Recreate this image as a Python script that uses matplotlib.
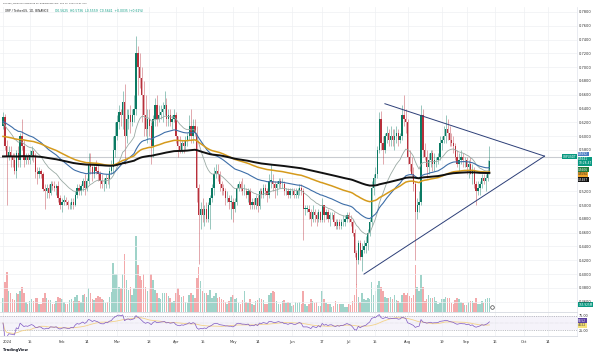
"""
XRP / TetherUS daily chart (TradingView style) with EMAs, volume,
triangle drawing and RSI pane
"""

import numpy as np
import pandas as pd
import matplotlib
matplotlib.use("Agg")
import matplotlib.pyplot as plt
import matplotlib.transforms as mtransforms

# Daily candles, Jan 1 - Sep 13 2024
first_open = 0.615
closes = [
    # Jan
    0.628, 0.585, 0.570, 0.577, 0.570, 0.565, 0.550, 0.575, 0.565, 0.600, 0.585, 0.565, 0.570, 0.565, 0.572, 0.578,
    0.570, 0.548, 0.545, 0.550, 0.545, 0.524, 0.520, 0.525, 0.518, 0.530, 0.528, 0.525, 0.528, 0.510, 0.500,
    # Feb
    0.505, 0.508, 0.505, 0.500, 0.500, 0.505, 0.500, 0.515, 0.525, 0.520, 0.527, 0.535, 0.525, 0.535, 0.560,
    0.555, 0.545, 0.555, 0.550, 0.545, 0.535, 0.530, 0.530, 0.540, 0.538, 0.550, 0.555, 0.580, 0.600,
    # Mar
    0.620, 0.635, 0.630, 0.650, 0.600, 0.625, 0.630, 0.620, 0.630, 0.640, 0.720, 0.700, 0.685, 0.660, 0.630, 0.610,
    0.625, 0.615, 0.585, 0.625, 0.645, 0.625, 0.630, 0.635, 0.640, 0.645, 0.625, 0.630, 0.620, 0.625, 0.630,
    # Apr
    0.600, 0.585, 0.580, 0.590, 0.585, 0.595, 0.600, 0.615, 0.600, 0.615, 0.605, 0.525, 0.485, 0.495, 0.485,
    0.495, 0.480, 0.500, 0.510, 0.525, 0.545, 0.550, 0.545, 0.530, 0.525, 0.520, 0.510, 0.510, 0.505, 0.505,
    # May
    0.495, 0.505, 0.525, 0.530, 0.525, 0.520, 0.520, 0.515, 0.520, 0.500, 0.505, 0.500, 0.510, 0.498, 0.520, 0.515,
    0.525, 0.520, 0.515, 0.535, 0.535, 0.530, 0.525, 0.530, 0.535, 0.530, 0.530, 0.520, 0.520, 0.515, 0.520,
    # Jun
    0.520, 0.515, 0.515, 0.520, 0.525, 0.520, 0.495, 0.495, 0.495, 0.490, 0.480, 0.490, 0.485, 0.480, 0.490,
    0.478, 0.500, 0.485, 0.490, 0.480, 0.485, 0.485, 0.475, 0.470, 0.475, 0.470, 0.475, 0.475, 0.480, 0.485,
    # Jul
    0.480, 0.475, 0.460, 0.430, 0.420, 0.445, 0.425, 0.435, 0.440, 0.445, 0.460, 0.475, 0.525, 0.540, 0.545, 0.580,
    0.625, 0.590, 0.580, 0.600, 0.605, 0.595, 0.600, 0.595, 0.600, 0.605, 0.595, 0.600, 0.630, 0.625, 0.620,
    # Aug
    0.570, 0.560, 0.545, 0.530, 0.490, 0.500, 0.505, 0.630, 0.580, 0.570, 0.555, 0.565, 0.575, 0.560, 0.565, 0.565,
    0.570, 0.590, 0.595, 0.600, 0.610, 0.605, 0.595, 0.590, 0.585, 0.570, 0.560, 0.565, 0.570, 0.565, 0.565,
    # Sep
    0.555, 0.560, 0.545, 0.550, 0.530, 0.520, 0.525, 0.530, 0.540, 0.535, 0.540, 0.548, 0.564,
]
highs = [
    0.635, 0.632, 0.595, 0.585, 0.585, 0.575, 0.575, 0.580, 0.585, 0.605, 0.625, 0.595, 0.575, 0.575, 0.580, 0.585,
    0.580, 0.575, 0.555, 0.555, 0.553, 0.548, 0.530, 0.530, 0.530, 0.535, 0.535, 0.535, 0.530, 0.535, 0.515,
    0.510, 0.515, 0.512, 0.508, 0.505, 0.510, 0.510, 0.520, 0.530, 0.530, 0.530, 0.540, 0.545, 0.540, 0.575,
    0.575, 0.560, 0.560, 0.565, 0.560, 0.550, 0.545, 0.540, 0.545, 0.545, 0.555, 0.565, 0.600, 0.620,
    0.630, 0.645, 0.640, 0.665, 0.675, 0.640, 0.640, 0.645, 0.640, 0.660, 0.745, 0.730, 0.720, 0.700, 0.680, 0.660,
    0.640, 0.640, 0.620, 0.630, 0.655, 0.660, 0.645, 0.645, 0.650, 0.665, 0.655, 0.640, 0.640, 0.630, 0.640,
    0.635, 0.600, 0.600, 0.595, 0.595, 0.600, 0.605, 0.630, 0.640, 0.625, 0.625, 0.615, 0.530, 0.505, 0.510,
    0.500, 0.505, 0.505, 0.515, 0.530, 0.555, 0.560, 0.560, 0.550, 0.535, 0.530, 0.525, 0.520, 0.515, 0.515,
    0.510, 0.510, 0.530, 0.535, 0.535, 0.540, 0.530, 0.525, 0.525, 0.525, 0.510, 0.510, 0.515, 0.515, 0.525, 0.525,
    0.530, 0.530, 0.525, 0.545, 0.560, 0.545, 0.535, 0.535, 0.540, 0.540, 0.540, 0.535, 0.525, 0.525, 0.525,
    0.525, 0.525, 0.525, 0.525, 0.530, 0.530, 0.525, 0.500, 0.500, 0.500, 0.495, 0.500, 0.495, 0.490, 0.495,
    0.492, 0.510, 0.500, 0.495, 0.495, 0.490, 0.490, 0.490, 0.480, 0.480, 0.480, 0.480, 0.485, 0.485, 0.490,
    0.490, 0.485, 0.480, 0.465, 0.435, 0.450, 0.450, 0.445, 0.450, 0.455, 0.465, 0.480, 0.535, 0.545, 0.555, 0.585,
    0.635, 0.637, 0.600, 0.605, 0.615, 0.610, 0.615, 0.610, 0.610, 0.615, 0.610, 0.605, 0.645, 0.660, 0.640,
    0.625, 0.580, 0.570, 0.555, 0.535, 0.510, 0.520, 0.645, 0.640, 0.590, 0.580, 0.575, 0.580, 0.580, 0.575, 0.570,
    0.575, 0.600, 0.600, 0.615, 0.630, 0.625, 0.615, 0.605, 0.600, 0.590, 0.580, 0.575, 0.580, 0.575, 0.570,
    0.570, 0.565, 0.570, 0.560, 0.555, 0.535, 0.535, 0.535, 0.545, 0.545, 0.545, 0.565, 0.586,
]
lows = [
    0.610, 0.580, 0.500, 0.565, 0.555, 0.555, 0.545, 0.540, 0.555, 0.555, 0.580, 0.555, 0.560, 0.560, 0.560, 0.565,
    0.562, 0.540, 0.530, 0.540, 0.540, 0.520, 0.495, 0.510, 0.510, 0.515, 0.522, 0.520, 0.515, 0.505, 0.495,
    0.490, 0.500, 0.500, 0.495, 0.495, 0.495, 0.495, 0.498, 0.510, 0.515, 0.515, 0.520, 0.515, 0.520, 0.530,
    0.545, 0.535, 0.540, 0.545, 0.535, 0.525, 0.525, 0.520, 0.525, 0.530, 0.525, 0.545, 0.545, 0.570,
    0.595, 0.610, 0.615, 0.610, 0.560, 0.590, 0.610, 0.605, 0.615, 0.620, 0.630, 0.660, 0.670, 0.620, 0.600, 0.600,
    0.590, 0.600, 0.560, 0.570, 0.615, 0.615, 0.620, 0.625, 0.620, 0.630, 0.615, 0.615, 0.615, 0.610, 0.620,
    0.590, 0.570, 0.575, 0.575, 0.575, 0.580, 0.585, 0.595, 0.590, 0.590, 0.600, 0.505, 0.415, 0.465, 0.475,
    0.470, 0.475, 0.475, 0.465, 0.505, 0.515, 0.540, 0.535, 0.520, 0.515, 0.515, 0.500, 0.505, 0.495, 0.480,
    0.475, 0.490, 0.500, 0.520, 0.520, 0.515, 0.515, 0.510, 0.505, 0.495, 0.495, 0.495, 0.495, 0.490, 0.495, 0.510,
    0.510, 0.515, 0.505, 0.510, 0.525, 0.520, 0.510, 0.515, 0.525, 0.525, 0.525, 0.515, 0.515, 0.510, 0.510,
    0.515, 0.510, 0.510, 0.510, 0.515, 0.515, 0.450, 0.485, 0.490, 0.480, 0.470, 0.475, 0.475, 0.470, 0.475,
    0.475, 0.475, 0.475, 0.480, 0.475, 0.470, 0.480, 0.470, 0.465, 0.465, 0.465, 0.465, 0.470, 0.470, 0.475,
    0.475, 0.470, 0.455, 0.425, 0.385, 0.415, 0.420, 0.405, 0.430, 0.430, 0.435, 0.455, 0.470, 0.515, 0.530, 0.540,
    0.575, 0.580, 0.560, 0.575, 0.590, 0.585, 0.585, 0.585, 0.580, 0.590, 0.585, 0.590, 0.595, 0.615, 0.605,
    0.560, 0.550, 0.540, 0.520, 0.420, 0.480, 0.490, 0.500, 0.570, 0.565, 0.540, 0.545, 0.555, 0.550, 0.550, 0.555,
    0.560, 0.565, 0.580, 0.590, 0.590, 0.595, 0.585, 0.585, 0.575, 0.565, 0.555, 0.550, 0.560, 0.555, 0.555,
    0.545, 0.540, 0.545, 0.530, 0.525, 0.500, 0.515, 0.515, 0.525, 0.530, 0.520, 0.535, 0.545,
]
# volume in millions of XRP
volumes = [
    170, 350, 470, 250, 220, 150, 140, 230, 210, 250, 300, 230, 120, 100, 130, 150,
    130, 170, 160, 100, 90, 170, 230, 160, 140, 140, 100, 100, 130, 180, 160,
    150, 120, 90, 100, 140, 150, 130, 180, 200, 130, 120, 200, 210, 180, 280,
    220, 150, 140, 170, 190, 180, 150, 140, 110, 120, 180, 240, 580, 450,
    450, 300, 280, 450, 680, 380, 260, 300, 200, 280, 900, 550, 420, 380, 450, 300,
    250, 280, 450, 380, 260, 220, 160, 150, 220, 230, 220, 190, 170, 120, 130,
    220, 280, 200, 180, 190, 120, 110, 200, 220, 200, 170, 400, 530, 370, 250,
    230, 220, 200, 260, 160, 190, 230, 170, 180, 150, 140, 120, 90, 130, 180,
    200, 150, 170, 110, 90, 140, 250, 120, 110, 150, 90, 80, 130, 140, 170, 150,
    140, 90, 100, 200, 230, 250, 240, 130, 90, 90, 130, 140, 110, 120, 110,
    70, 80, 120, 110, 120, 100, 250, 90, 70, 100, 150, 130, 110, 120, 70,
    70, 250, 150, 110, 100, 90, 60, 70, 130, 100, 90, 90, 100, 60, 60,
    90, 80, 130, 200, 330, 180, 120, 220, 150, 140, 170, 150, 350, 200, 250, 320,
    370, 300, 250, 180, 160, 170, 180, 150, 200, 140, 130, 110, 200, 230, 200,
    220, 190, 170, 200, 560, 300, 250, 440, 300, 130, 150, 200, 170, 170, 180, 130,
    100, 110, 150, 150, 180, 170, 160, 110, 100, 140, 170, 150, 120, 110, 80,
    80, 120, 130, 130, 110, 160, 90, 90, 130, 110, 150, 170, 166,
]

# EMA starting values on Jan 1
ema_lengths = [20, 50, 100, 200]
ema_start = [0.618, 0.621, 0.599, 0.570]
ema_colors = ["#9aaaa4", "#3d6ea8", "#d59a1c", "#111111"]
ema_widths = [0.6, 0.8, 1.1, 1.4]

# triangle drawing (date, price)
tri_upper_x = ["2024-07-20", "2024-10-12"]
tri_upper_y = [0.647, 0.571]
tri_lower_x = ["2024-07-09", "2024-10-12"]
tri_lower_y = [0.400, 0.571]
hline_price = 0.570

tick_dates = ["2024-01-01", "2024-01-15", "2024-02-01", "2024-02-14", "2024-03-01", "2024-03-18",
              "2024-04-01", "2024-04-15", "2024-05-01", "2024-05-14", "2024-06-01", "2024-06-17",
              "2024-07-01", "2024-07-15", "2024-08-01", "2024-08-19", "2024-09-01", "2024-09-16",
              "2024-10-01", "2024-10-14"]
tick_labels = ["2024", "15", "Feb", "14", "Mar", "18", "Apr", "15", "May", "14", "Jun", "17",
               "Jul", "15", "Aug", "19", "Sep", "16", "Oct", "14"]
# price labels hidden behind the tags in the original
hidden_price_labels = [0.54, 0.56]

# price tags at the right (label, y position, colour)
tag_text = ["0.5692", "0.5641\n10:28:47", "0.5606", "0.5594", "0.5487"]
tag_pos = [0.5741, 0.5633, 0.5516, 0.5444, 0.5371]
tag_color = ["#4a7cc4", "#089981", "#1f7a3a", "#f0a52a", "#111111"]
tag_text_color = ["white", "white", "white", "#222222", "white"]

# ---------------------------------------------------------------
start = pd.Timestamp("2024-01-01")
n = len(closes)
x = np.arange(n)
c = np.array(closes)
o = np.r_[first_open, c[:-1]]
h = np.maximum(np.array(highs), np.maximum(o, c))
l = np.minimum(np.array(lows), np.minimum(o, c))
v = np.array(volumes)
up = c >= o


def day(s):
    return (pd.Timestamp(s) - start).days


W, H = 600, 354


def rect(x0, y0, x1, y1):
    return [x0 / W, 1 - y1 / H, (x1 - x0) / W, (y1 - y0) / H]


fig = plt.figure(figsize=(6, 3.54), dpi=100)
ax = fig.add_axes(rect(0, 7, 577, 312))
axr = fig.add_axes(rect(0, 312, 577, 336), sharex=ax)

grid_c = "#eef0f3"
xl = (-3 / 1.9, (577 - 3) / 1.9)

# volume overlay
axv = ax.twinx()
axv.bar(x, v, width=0.75, color=np.where(up, "#9fd3c9", "#f3a9ab"), zorder=1)
axv.set_ylim(0, 3600)
axv.axis("off")
ax.set_zorder(axv.get_zorder() + 1)
ax.patch.set_visible(False)

# candles
col = np.where(up, "#0b7a63", "#b8303b")
ax.vlines(x, l, h, colors=col, lw=0.45, alpha=0.65, zorder=3)
ax.bar(x, np.maximum(np.abs(c - o), 0.0008), bottom=np.minimum(o, c), width=0.7,
       color=col, zorder=4)

# EMAs
for n_len, s0, cl, lw in zip(ema_lengths, ema_start, ema_colors, ema_widths):
    e = pd.Series(np.r_[s0, c]).ewm(span=n_len, adjust=False).mean().values[1:]
    ax.plot(x, e, color=cl, lw=lw, zorder=5)

# drawings
ax.axhline(hline_price, color="#c9ccd1", lw=0.8, zorder=2)
ax.plot([day(d) for d in tri_upper_x], tri_upper_y, color="#2c3e77", lw=0.7, zorder=6)
ax.plot([day(d) for d in tri_lower_x], tri_lower_y, color="#2c3e77", lw=0.7, zorder=6)
axv.plot(n - 1 + 1.3, 60, marker="o", ms=2.6, mfc="white", mec="#444444", mew=0.5)

ax.set_xlim(*xl)
ax.set_ylim(0.78 - 300 * 0.00145, 0.78 + 5 * 0.00145)
ticks = np.arange(0.36, 0.7801, 0.02)
ax.set_yticks(ticks)
ax.set_yticklabels(["" if any(abs(t - hp) < 1e-6 for hp in hidden_price_labels) else "%.4f" % t
                    for t in ticks])
ax.yaxis.tick_right()
ax.tick_params(axis="y", length=0, pad=1.5, labelsize=2.6, labelcolor="#333333")
ax.tick_params(axis="x", length=0, labelbottom=False)
ax.set_xticks([day(d) for d in tick_dates])
ax.grid(True, color=grid_c, lw=0.5)
for sp in ax.spines.values():
    sp.set_visible(False)
ax.spines["right"].set_visible(True)
ax.spines["right"].set_color("#e0e3eb")
ax.spines["right"].set_linewidth(0.5)
ax.spines["bottom"].set_visible(True)
ax.spines["bottom"].set_color("#d6d9e0")
ax.spines["bottom"].set_linewidth(0.6)

tr = mtransforms.blended_transform_factory(ax.transAxes, ax.transData)
for t, yv, fc, tc in zip(tag_text, tag_pos, tag_color, tag_text_color):
    ax.text(1.002, yv, t, transform=tr, fontsize=2.1, color=tc, va="center", ha="left",
            linespacing=1.0, bbox=dict(boxstyle="square,pad=0.12", fc=fc, ec="none"),
            zorder=10, clip_on=False)
ax.text(0.999, hline_price, "XRPUSDT", transform=tr, fontsize=2.1, color="white",
        va="center", ha="right", bbox=dict(boxstyle="square,pad=0.15", fc="#089981", ec="none"),
        zorder=10)
axv.text(1.002, 85, "165.925M", transform=mtransforms.blended_transform_factory(
    axv.transAxes, axv.transData), fontsize=2.1, color="white", va="center", ha="left",
    bbox=dict(boxstyle="square,pad=0.15", fc="#089981", ec="none"), clip_on=False)

# RSI pane
d = pd.Series(c).diff().fillna(0)
gain = d.clip(lower=0).ewm(alpha=1 / 14, adjust=False).mean()
loss = (-d.clip(upper=0)).ewm(alpha=1 / 14, adjust=False).mean()
rsi = 100 - 100 / (1 + gain / loss.replace(0, np.nan))
rsi = rsi.fillna(50)
rsi_ma = rsi.rolling(14, min_periods=1).mean()

axr.axhspan(25, 75, color="#7e57c2", alpha=0.07, lw=0)
axr.axhline(75, color="#8c8f99", lw=0.4, ls=(0, (2, 2)))
axr.axhline(25, color="#8c8f99", lw=0.4, ls=(0, (2, 2)))
axr.axhline(50, color="#b7b9c2", lw=0.3, ls=(0, (1, 2)))
axr.plot(x, rsi_ma, color="#f3d28a", lw=0.6)
axr.plot(x, rsi, color="#7e57c2", lw=0.5)
axr.set_ylim(4, 89)
axr.set_yticks([25, 75])
axr.set_yticklabels(["25.00", "75.00"])
axr.yaxis.tick_right()
axr.tick_params(axis="y", length=0, pad=1.5, labelsize=2.4, labelcolor="#333333")
axr.set_xticks([day(dd) for dd in tick_dates])
axr.set_xticklabels(tick_labels)
axr.get_xticklabels()[0].set_horizontalalignment("left")
axr.tick_params(axis="x", length=0, pad=3, labelsize=2.6, labelcolor="#333333")
axr.grid(True, axis="x", color=grid_c, lw=0.5)
for sp in axr.spines.values():
    sp.set_visible(False)
axr.spines["right"].set_visible(True)
axr.spines["right"].set_color("#e0e3eb")
axr.spines["right"].set_linewidth(0.5)
axr.spines["bottom"].set_visible(True)
axr.spines["bottom"].set_color("#d6d9e0")
axr.spines["bottom"].set_linewidth(0.6)
trr = mtransforms.blended_transform_factory(axr.transAxes, axr.transData)
axr.text(1.002, 58, "58.52", transform=trr, fontsize=2.1, color="white", va="center", ha="left",
         bbox=dict(boxstyle="square,pad=0.12", fc="#5b3fa0", ec="none"), clip_on=False)
axr.text(1.002, 42, "44.52", transform=trr, fontsize=2.1, color="#333333", va="center", ha="left",
         bbox=dict(boxstyle="square,pad=0.12", fc="#f7e27a", ec="none"), clip_on=False)

# header
fig.text(3 / W, 1 - 3 / H, "armaan_shrimiyan published on TradingView.com, Sep 13, 2024 10:31 UTC",
         fontsize=1.6, color="#444444", va="center", ha="left")
fig.text(5 / W, 1 - 10.5 / H, "XRP / TetherUS, 1D, BINANCE", fontsize=2.2, color="#222222",
         va="center", ha="left")
fig.text(55 / W, 1 - 10.5 / H, "O0.5625  H0.5736  L0.5559  C0.5641  +0.0035 (+0.62%)", fontsize=2.2,
         color="#089981", va="center", ha="left")
fig.text(3 / W, 1 - 350 / H, "TradingView", fontsize=2.6, color="#131722", weight="bold",
         va="center", ha="left")

fig.savefig("out.png", dpi=100, facecolor="white")
